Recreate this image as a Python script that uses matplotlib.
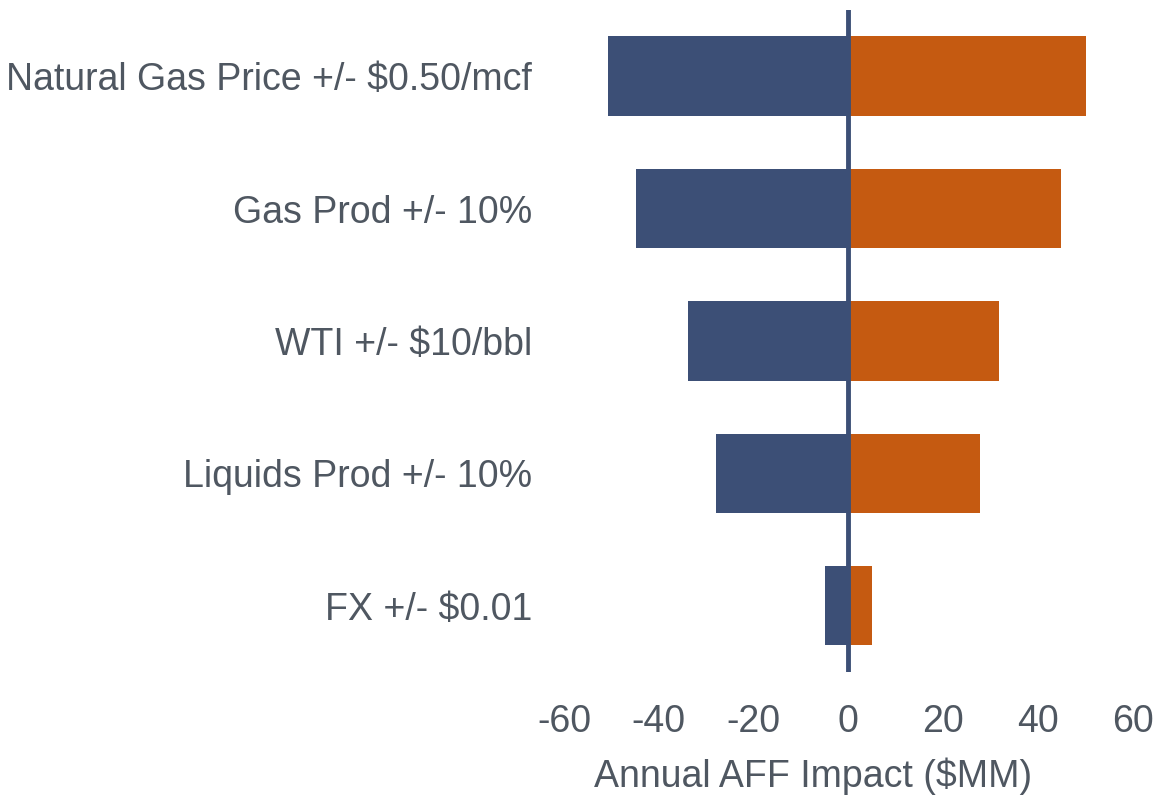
import matplotlib
matplotlib.use("Agg")
import matplotlib.pyplot as plt

categories = ["Natural Gas Price +/- $0.50/mcf", "Gas Prod +/- 10%", "WTI +/- $10/bbl",
              "Liquids Prod +/- 10%", "FX +/- $0.01"]
downside = [-50.7, -44.8, -33.8, -27.9, -4.9]
upside = [50.1, 45.0, 31.8, 27.8, 5.0]
xticks = [-60, -40, -20, 0, 20, 40, 60]

navy = "#3C4F76"
orange = "#C55A11"
textc = "#4F5761"

plt.rcParams['font.family'] = ['Liberation Sans', 'DejaVu Sans']

fig = plt.figure(figsize=(11.58, 7.97), dpi=100)
ax = fig.add_axes([0.487, 0.157, 0.491, 0.8305])

y = list(range(len(categories)))
ax.barh(y, downside, height=0.6, color=navy, zorder=2)
ax.barh(y, upside, height=0.6, color=orange, zorder=2)
ax.axvline(0, color=navy, lw=3.5, zorder=3)

ax.set_ylim(len(categories) - 0.5, -0.5)
ax.set_xlim(-60, 60)
ax.set_xticks(xticks)
ax.set_xticklabels([str(t) for t in xticks])
ax.set_yticks(y)
ax.set_yticklabels(categories)
for s in ax.spines.values():
    s.set_visible(False)
ax.tick_params(axis='both', length=0, labelsize=27, colors=textc)
ax.tick_params(axis='x', pad=23)
ax.tick_params(axis='y', pad=23)
ax.set_xlabel("Annual AFF Impact ($MM)", fontsize=27, color=textc, labelpad=14)
ax.xaxis.set_label_coords(0.438, -0.13)

fig.savefig("out.png", dpi=100)
